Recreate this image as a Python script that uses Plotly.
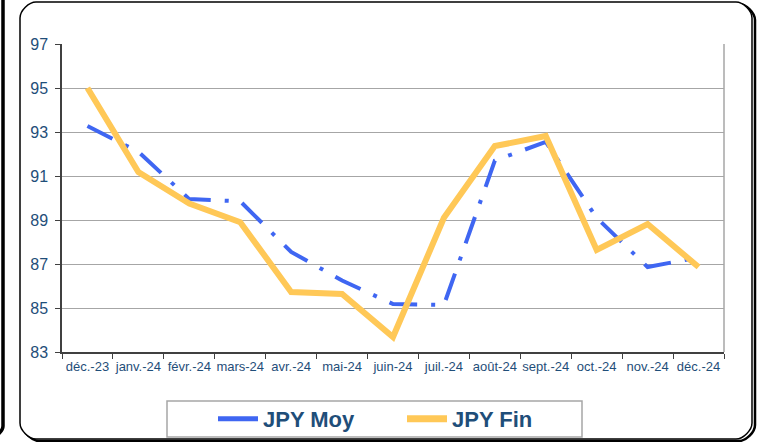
import plotly.graph_objects as go

months = ["déc.-23", "janv.-24", "févr.-24", "mars-24", "avr.-24", "mai-24", "juin-24",
          "juil.-24", "août-24", "sept.-24", "oct.-24", "nov.-24", "déc.-24"]
jpy_moy = [93.27, 92.1, 89.95, 89.85, 87.55, 86.25, 85.18, 85.14, 91.7, 92.55, 89.1, 86.86, 87.3]
jpy_fin = [95.0, 91.18, 89.75, 88.9, 85.73, 85.64, 83.68, 89.1, 92.36, 92.82, 87.64, 88.82, 86.86]
y_ticks = [83, 85, 87, 89, 91, 93, 95, 97]

W, H = 763, 442
L, R, T, B = 62, 724, 44, 352

def px(x):
    return (x - L) / (R - L)

def py(y):
    return (B - y) / (B - T)

label_col = "#1F4E79"
blue = "#3F66F2"
gold = "#FFC857"

fig = go.Figure()
fig.add_trace(go.Scatter(
    x=months, y=jpy_moy, name="JPY Moy", mode="lines", showlegend=False,
    line=dict(color=blue, width=4, dash="28px,14px,4px,14px"),
))
fig.add_trace(go.Scatter(
    x=months, y=jpy_fin, name="JPY Fin", mode="lines", showlegend=False,
    line=dict(color=gold, width=6),
))
# legend-only entries (solid symbols as in the reference legend)
fig.add_trace(go.Scatter(x=[None], y=[None], name="JPY Moy", mode="lines",
                         line=dict(color=blue, width=5)))
fig.add_trace(go.Scatter(x=[None], y=[None], name="JPY Fin", mode="lines",
                         line=dict(color=gold, width=7)))

def rounded_rect(x0, y0, x1, y1, r):
    k = 0.45 * r
    pts = [
        f"M {px(x0 + r)},{py(y0)}",
        f"L {px(x1 - r)},{py(y0)}",
        f"C {px(x1 - r + k)},{py(y0)} {px(x1)},{py(y0 + r - k)} {px(x1)},{py(y0 + r)}",
        f"L {px(x1)},{py(y1 - r)}",
        f"C {px(x1)},{py(y1 - r + k)} {px(x1 - r + k)},{py(y1)} {px(x1 - r)},{py(y1)}",
        f"L {px(x0 + r)},{py(y1)}",
        f"C {px(x0 + r - k)},{py(y1)} {px(x0)},{py(y1 - r + k)} {px(x0)},{py(y1 - r)}",
        f"L {px(x0)},{py(y0 + r)}",
        f"C {px(x0)},{py(y0 + r - k)} {px(x0 + r - k)},{py(y0)} {px(x0 + r)},{py(y0)} Z",
    ]
    return " ".join(pts)

shapes = [
    dict(type="path", xref="paper", yref="paper", path=rounded_rect(23, 4, 755, 441, 16),
         line=dict(color="#000000", width=2.5), fillcolor="rgba(0,0,0,0)", layer="below"),
    dict(type="path", xref="paper", yref="paper", path=rounded_rect(20, 2, 752, 439, 16),
         line=dict(color="#000000", width=1.5), fillcolor="#FFFFFF", layer="below"),
    dict(type="path", xref="paper", yref="paper", path=rounded_rect(-40, -20, 3, 436, 10),
         line=dict(color="#000000", width=3.5), fillcolor="rgba(0,0,0,0)", layer="below"),
    dict(type="line", xref="paper", yref="paper", x0=1, x1=1, y0=0, y1=1,
         line=dict(color="#A6A6A6", width=1.5)),
    # legend box
    dict(type="rect", xref="paper", yref="paper", x0=px(167), x1=px(582), y0=py(401), y1=py(437),
         line=dict(color="#A6A6A6", width=1.5), fillcolor="#FFFFFF", layer="below"),
]

fig.update_layout(
    width=W, height=H,
    margin=dict(l=L, r=W - R, t=T, b=H - B),
    paper_bgcolor="#FFFFFF", plot_bgcolor="#FFFFFF",
    font=dict(family="Liberation Sans, Arial, sans-serif", color=label_col),
    showlegend=True,
    legend=dict(
        orientation="h", xref="container", yref="container",
        x=213 / W, xanchor="left", y=(H - 398) / H, yanchor="top",
        borderwidth=0, bgcolor="rgba(0,0,0,0)",
        font=dict(size=22, color=label_col, family="Liberation Sans, Arial, sans-serif", weight="bold"),
        itemwidth=40, entrywidth=134, tracegroupgap=0,
    ),
    shapes=shapes,
    xaxis=dict(
        type="category", tickson="boundaries", ticks="outside", ticklen=5,
        tickcolor="#404040", showline=True, linecolor="#404040", linewidth=1.5,
        showgrid=False, tickfont=dict(size=13, color=label_col), tickangle=0,
        range=[-0.5, 12.5], fixedrange=True, ticklabelstandoff=2,
    ),
    yaxis=dict(
        range=[83, 97], tickvals=y_ticks, ticktext=[str(v) for v in y_ticks],
        ticks="outside", ticklen=5, tickcolor="#404040",
        showline=True, linecolor="#404040", linewidth=1.5,
        showgrid=True, gridcolor="#A6A6A6", gridwidth=1.2, zeroline=False,
        tickfont=dict(size=16, color=label_col), fixedrange=True,
        ticklabelstandoff=4,
    ),
)

fig.write_html("out.html", config={"displayModeBar": False},
               post_script="document.body.style.margin='0px';")
